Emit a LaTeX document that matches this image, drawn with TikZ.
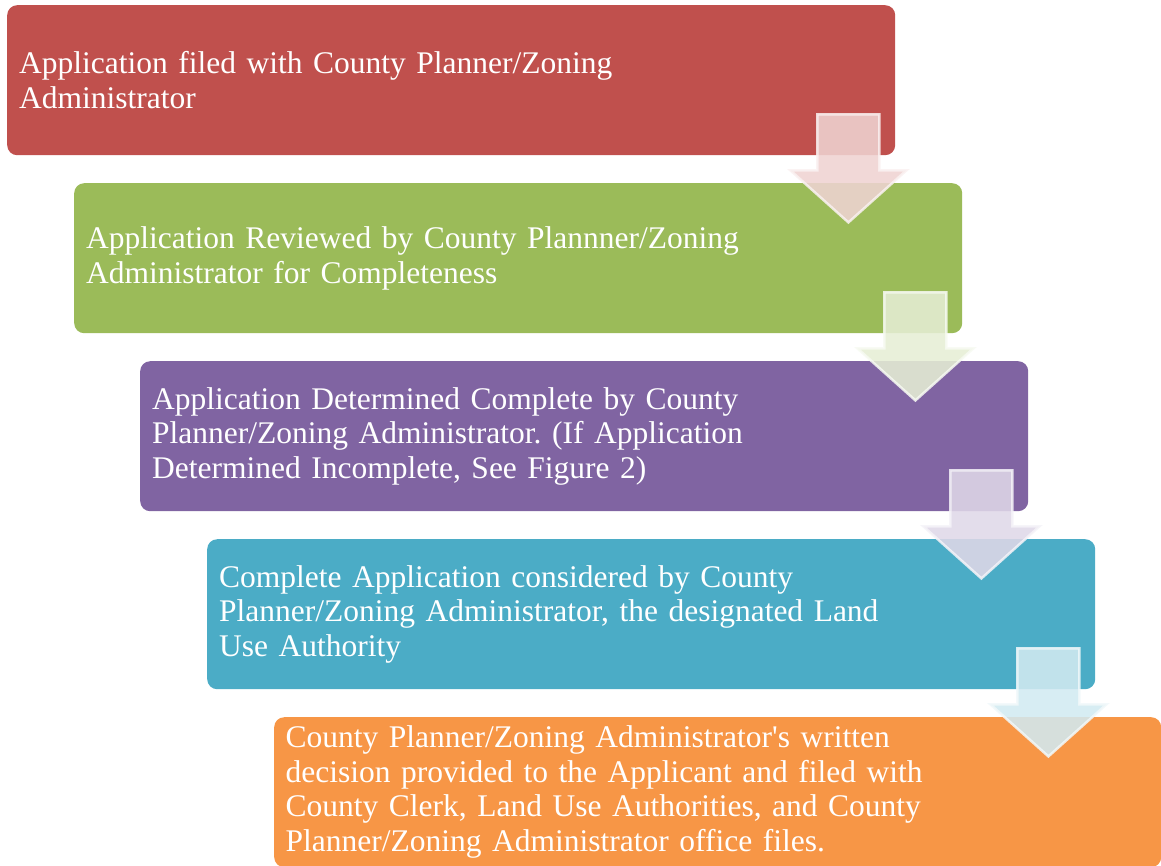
\documentclass[tikz,border=0pt]{standalone}
\usepackage{fontspec}
\setmainfont{Liberation Serif}
\usetikzlibrary{positioning,calc}
\definecolor{stepred}{HTML}{C0504D}
\definecolor{stepgreen}{HTML}{9BBB59}
\definecolor{steppurple}{HTML}{8064A2}
\definecolor{stepblue}{HTML}{4BACC6}
\definecolor{steporange}{HTML}{F79646}
\frenchspacing
\begin{document}
\begin{tikzpicture}[x=1pt,y=-1pt,line join=miter,
  stepbox/.style={rounded corners=10pt,minimum width=888pt,minimum height=150pt,inner sep=0pt,
    text width=864pt,align=left,anchor=north west,text=white,font=\fontsize{31.5}{34.5}\selectfont},
  downarrow/.style={fill=#1!25!white,fill opacity=0.88,draw=#1!8!white,draw opacity=0.85,line width=2.5pt}]
\useasboundingbox (0,0) rectangle (1161,865);
\node[stepbox,fill=stepred] (s1) at (7,5) {Application filed with County Planner/Zoning\\Administrator};
\node[stepbox,fill=stepgreen] (s2) at (74,183) {Application Reviewed by County Plannner/Zoning\\Administrator for Completeness};
\node[stepbox,fill=steppurple] (s3) at (140,361) {Application Determined Complete by County\\Planner/Zoning Administrator. (If Application\\Determined Incomplete, See Figure 2)};
\node[stepbox,fill=stepblue] (s4) at (207,539) {Complete Application considered by County\\Planner/Zoning Administrator, the designated Land\\Use Authority};
\node[stepbox,fill=steporange,minimum width=887pt] (s5) at (274,717) {County Planner/Zoning Administrator\textquotesingle s written\\decision provided to the Applicant and filed with\\County Clerk, Land Use Authorities, and County\\Planner/Zoning Administrator office files.};
% arrows between the steps
\foreach \a/\c in {s1/stepred,s2/stepgreen,s3/steppurple,s4/stepblue}
  \draw[downarrow=\c,shift={(\a.south east)}] (-78,-41) -- (-16,-41) -- (-16,15) -- (11,15) -- (-47,67) -- (-105,15) -- (-78,15) -- cycle;
\end{tikzpicture}
\end{document}
